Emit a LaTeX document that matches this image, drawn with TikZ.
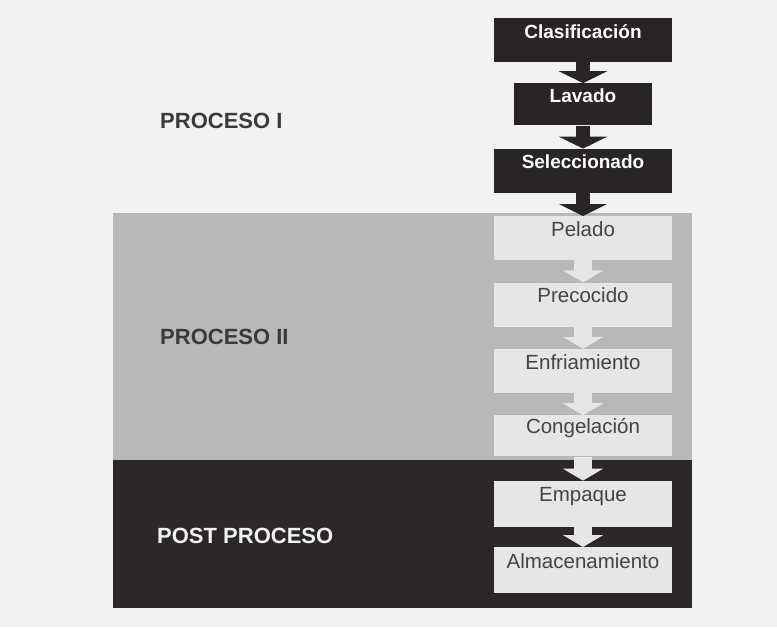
\documentclass[tikz,border=0pt]{standalone}
\usepackage{fontspec}
\setmainfont{Liberation Sans}
\usetikzlibrary{arrows.meta,positioning,calc}

\definecolor{paper}{HTML}{F2F2F0}
\definecolor{zonegrey}{HTML}{B8B8B8}
\definecolor{zonedark}{HTML}{2B2827}
\definecolor{boxdark}{HTML}{2A2525}
\definecolor{boxlight}{HTML}{E6E6E6}
\definecolor{boxtext}{HTML}{444444}
\definecolor{labgrey}{HTML}{3A3A3A}

\begin{document}
\begin{tikzpicture}[x=1pt, y=-1pt, node distance=22pt,
            stepbox/.style={inner sep=0pt, minimum width=178pt, minimum height=44pt,
                            text height=14pt, text depth=18pt},
            darkbox/.style={stepbox, fill=boxdark, text=white,
                            font=\fontsize{19}{21}\selectfont\bfseries},
            lightbox/.style={stepbox, fill=boxlight, text=boxtext,
                            font=\fontsize{20.5}{22}\selectfont},
            darkarrow/.style={draw=boxdark, line width=14pt,
                            -{Triangle[width=48pt,length=12pt]}},
            lightarrow/.style={draw=boxlight, line width=18pt,
                            -{Triangle[width=40pt,length=12pt]}},
            stage/.style={anchor=west, inner sep=0pt,
                            font=\fontsize{22}{24}\selectfont\bfseries}]
        % page and the two shaded zones
        \fill[paper] (0,0) rectangle (777,627);
        \useasboundingbox (0,0) rectangle (777,627);
        \fill[zonegrey] (113,213) rectangle (692,460);
        \fill[zonedark] (113,460) rectangle (692,608);

        % stage labels
        \node[stage, text=labgrey] (stageI) at (160,121) {PROCESO I};
        \node[stage, text=labgrey] (stageII) at (160,337) {PROCESO II};
        \node[stage, text=paper] (stagePost) at (157,536) {POST PROCESO};

        % process steps
        \node[darkbox] (nodeClas) at (583,40) {Clasificación};
        \node[darkbox, minimum width=138pt, minimum height=42pt,
              below=21pt of nodeClas] (nodeLav) {Lavado};
        \node[darkbox, below=23pt of nodeLav] (nodeSel) {Seleccionado};
        \node[lightbox, below=23pt of nodeSel] (nodePel) {Pelado};
        \node[lightbox, below=of nodePel] (nodePrec) {Precocido};
        \node[lightbox, below=of nodePrec] (nodeEnf) {Enfriamiento};
        \node[lightbox, minimum height=41pt, below=of nodeEnf] (nodeCong) {Congelación};
        \node[lightbox, minimum height=46pt, below=24pt of nodeCong] (nodeEmp) {Empaque};
        \node[lightbox, minimum height=46pt, below=20pt of nodeEmp] (nodeAlm) {Almacenamiento};

        \draw[darkarrow] (nodeClas) -- (nodeLav);
        \draw[darkarrow] (nodeLav) -- (nodeSel);
        \draw[darkarrow] (nodeSel) -- (nodePel);
        \draw[lightarrow] (nodePel) -- (nodePrec);
        \draw[lightarrow] (nodePrec) -- (nodeEnf);
        \draw[lightarrow] (nodeEnf) -- (nodeCong);
        \draw[lightarrow] (nodeCong) -- (nodeEmp);
        \draw[lightarrow] (nodeEmp) -- (nodeAlm);
\end{tikzpicture}
\end{document}
